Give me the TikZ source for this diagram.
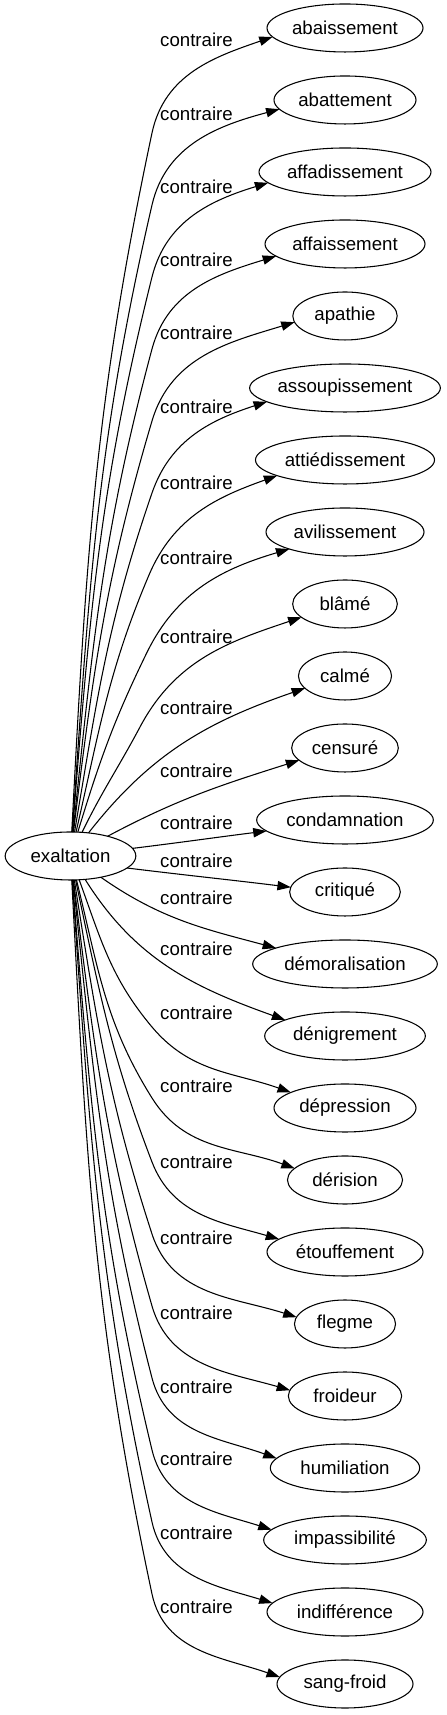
\documentclass[tikz,border=0pt]{standalone}
\usepackage{fontspec}
\setmainfont{Liberation Sans}
\usetikzlibrary{positioning,shapes.geometric,arrows.meta}

\begin{document}
\begin{tikzpicture}[x=0.75pt,y=0.75pt,
	main/.style={ellipse, draw=black, line width=0.8pt, minimum height=36pt, inner sep=0pt, outer sep=0pt, font=\fontsize{14pt}{16pt}\selectfont},
	lbl/.style={inner sep=0pt, font=\fontsize{14pt}{16pt}\selectfont},
	link/.style={line width=0.8pt, -{Triangle[length=10pt,width=7pt]}},
	node distance=18pt
	]
	\useasboundingbox (0,0) rectangle (446,1715);

	\node (exaltation) [main, minimum width=98pt] at (70.5,859) {exaltation};

		\node (abaissement) [main, minimum width=117pt] at (345,1687) {abaissement};
		\node (abattement) [main, minimum width=106.5pt, below=of abaissement] {abattement};
		\node (affadissement) [main, minimum width=129pt, below=of abattement] {affadissement};
		\node (affaissement) [main, minimum width=120pt, below=of affadissement] {affaissement};
		\node (apathie) [main, minimum width=78.3pt, below=of affaissement] {apathie};
		\node (assoupissement) [main, minimum width=142.5pt, below=of apathie] {assoupissement};
		\node (attiedissement) [main, minimum width=134.3pt, below=of assoupissement] {attiédissement};
		\node (avilissement) [main, minimum width=118.5pt, below=of attiedissement] {avilissement};
		\node (blame) [main, minimum width=78.5pt, below=of avilissement] {blâmé};
		\node (calme) [main, minimum width=69.8pt, below=of blame] {calmé};
		\node (censure) [main, minimum width=80pt, below=of calme] {censuré};
		\node (condamnation) [main, minimum width=132.5pt, below=of censure] {condamnation};
		\node (critique) [main, minimum width=83pt, below=of condamnation] {critiqué};
		\node (demoralisation) [main, minimum width=138.5pt, below=of critique] {démoralisation};
		\node (denigrement) [main, minimum width=120.5pt, below=of demoralisation] {dénigrement};
		\node (depression) [main, minimum width=106.5pt, below=of denigrement] {dépression};
		\node (derision) [main, minimum width=86.3pt, below=of depression] {dérision};
		\node (etouffement) [main, minimum width=117pt, below=of derision] {étouffement};
		\node (flegme) [main, minimum width=75.8pt, below=of etouffement] {flegme};
		\node (froideur) [main, minimum width=85pt, below=of flegme] {froideur};
		\node (humiliation) [main, minimum width=112pt, below=of froideur] {humiliation};
		\node (impassibilite) [main, minimum width=122pt, below=of humiliation] {impassibilité};
		\node (indifference) [main, minimum width=117pt, below=of impassibilite] {indifférence};
		\node (sangfroid) [main, minimum width=102pt, below=of indifference] {sang-froid};

	\foreach \ly [count=\j from 0] in {1675.2,1601.2,1528.6,1455.2,1382.6,1308.6,1232.6,1156.9,1078.6,1007.6,944.2,891.9,853.9,817.6,765.9,701.9,629.2,553.6,477.6,402.6,328.6,255.9,181.9,108.6}
		\node (c\j) [lbl] at (196.5,\ly) {contraire};

	\draw [link] (exaltation) to[out=87,in=258] (152,1582) to[out=78,in=199] (abaissement.187.4);
	\draw [link] (exaltation) to[out=86,in=257] (152,1510) to[out=77,in=195] (abattement.188.8);
	\draw [link] (exaltation) to[out=85.5,in=256] (152,1438) to[out=76,in=197] (affadissement.188.5);
	\draw [link] (exaltation) to[out=84,in=255] (152,1366) to[out=75,in=197] (affaissement.190.6);
	\draw [link] (exaltation) to[out=83,in=253.5] (152,1294) to[out=73.5,in=197] (apathie.187.5);
	\draw [link] (exaltation) to[out=80.5,in=251] (152,1222) to[out=71,in=198] (assoupissement.190);
	\draw [link] (exaltation) to[out=77,in=247] (149,1140) to[out=67,in=199.6] (attiedissement.193.5);
	\draw [link] (exaltation) to[out=73,in=244] (146.7,1062) to[out=64,in=196.5] (avilissement.197.5);
	\draw [link] (exaltation) to[out=64,in=242] (140,988) to[out=62,in=198.5] (blame.197);
	\draw [link] (exaltation) to[out=52,in=199] (calme.197.7);
	\draw [link] (exaltation) to[out=28,in=197.6] (censure.195.7);
	\draw [link] (exaltation) to[out=7,in=187.2] (condamnation.188);
	\draw [link] (exaltation.-12) to[out=-7,in=173] (critique.175);
	\draw [link] (exaltation) to[out=-35,in=165] (demoralisation.167.3);
	\draw [link] (exaltation) to[out=-58,in=160.3] (denigrement.165);
	\draw [link] (exaltation) to[out=-70,in=130] (152,688) to[out=-50,in=160.3] (depression.164.8);
	\draw [link] (exaltation) to[out=-76,in=122] (152,617) to[out=-58,in=160] (derision.167.3);
	\draw [link] (exaltation) to[out=-78,in=111] (152,553) to[out=-69,in=163.7] (etouffement.169.9);
	\draw [link] (exaltation) to[out=-81,in=108] (152,481) to[out=-72,in=162.2] (flegme.172);
	\draw [link] (exaltation) to[out=-83,in=106] (152,409) to[out=-74,in=163.8] (froideur.174.5);
	\draw [link] (exaltation) to[out=-84,in=104.5] (152,337) to[out=-75.5,in=160] (humiliation.172.6);
	\draw [link] (exaltation) to[out=-85.5,in=103.5] (152,265) to[out=-76.5,in=162.3] (impassibilite.172.9);
	\draw [link] (exaltation) to[out=-86,in=102.5] (152,193) to[out=-77.5,in=163] (indifference.173.5);
	\draw [link] (exaltation) to[out=-87,in=102] (152,121) to[out=-78,in=160.6] (sangfroid.174.1);

\end{tikzpicture}
\end{document}
